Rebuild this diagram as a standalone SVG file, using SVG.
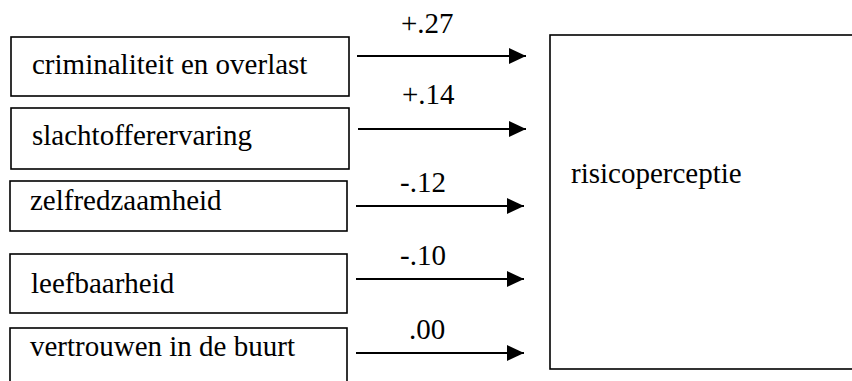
<svg xmlns="http://www.w3.org/2000/svg" width="852" height="381" viewBox="0 0 852 381">
<style>
.box{fill:#fff;stroke:#000;stroke-width:1.6}
.t{font-family:'Liberation Serif','Times New Roman',serif;font-size:29px;fill:#000}
.c{stroke:#000;stroke-width:2;fill:none}
</style>
<defs>
<marker id="ah" markerWidth="17" markerHeight="16" refX="17" refY="8" orient="auto" markerUnits="userSpaceOnUse" viewBox="0 0 17 16">
<path d="M0,0 L17,8 L0,16 Z" fill="#000"/>
</marker>
</defs>
<rect x="0" y="0" width="852" height="381" fill="#fff"/>
<g id="node-criminaliteit">
<rect class="box" x="11" y="37" width="338" height="59"/>
<text class="t" x="32" y="74">criminaliteit en overlast</text>
</g>
<g id="node-slachtoffer">
<rect class="box" x="11" y="108" width="338" height="61"/>
<text class="t" x="32" y="145">slachtofferervaring</text>
</g>
<g id="node-zelfredzaamheid">
<rect class="box" x="10" y="181" width="337" height="50"/>
<text class="t" x="30" y="210">zelfredzaamheid</text>
</g>
<g id="node-leefbaarheid">
<rect class="box" x="10" y="254" width="337" height="59"/>
<text class="t" x="31" y="293">leefbaarheid</text>
</g>
<g id="node-vertrouwen">
<rect class="box" x="10" y="328" width="337" height="70"/>
<text class="t" x="30" y="356">vertrouwen in de buurt</text>
</g>
<g id="node-risicoperceptie">
<rect class="box" x="550" y="35" width="320" height="334"/>
<text class="t" x="571" y="183">risicoperceptie</text>
</g>
<g id="connectors">
<line class="c" x1="357" y1="56" x2="526" y2="56" marker-end="url(#ah)"/>
<line class="c" x1="358" y1="129" x2="526" y2="129" marker-end="url(#ah)"/>
<line class="c" x1="356" y1="206" x2="524" y2="206" marker-end="url(#ah)"/>
<line class="c" x1="356" y1="279" x2="524" y2="279" marker-end="url(#ah)"/>
<line class="c" x1="356" y1="353" x2="524" y2="353" marker-end="url(#ah)"/>
<text class="t" x="401" y="33">+.27</text>
<text class="t" x="402" y="104">+.14</text>
<text class="t" x="400" y="192">-.12</text>
<text class="t" x="400" y="265">-.10</text>
<text class="t" x="409" y="339">.00</text>
</g>
</svg>
